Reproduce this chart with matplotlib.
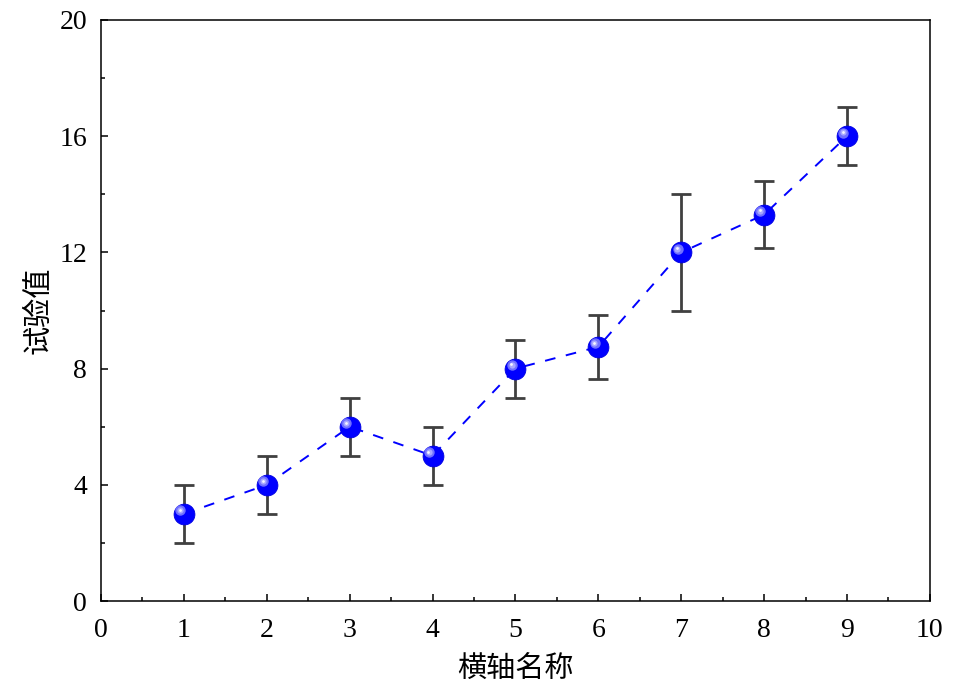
import matplotlib
matplotlib.use("Agg")
import matplotlib.pyplot as plt
from matplotlib.ticker import MultipleLocator
import matplotlib.transforms as mtransforms

# data
x = [1, 2, 3, 4, 5, 6, 7, 8, 9]
y = [3, 4, 6, 5, 8, 8.75, 12, 13.3, 16]
err = [1, 1, 1, 1, 1, 1.1, 2, 1.15, 1]

plt.rcParams['font.family'] = ['Liberation Serif', 'Noto Sans CJK SC']

fig = plt.figure(figsize=(9.66, 6.91), dpi=100)
ax = fig.add_axes([0.1046, 0.1302, 0.858, 0.8409])

# error bars
ax.errorbar(x, y, yerr=err, fmt='none', ecolor='#404040', elinewidth=2.0,
            capsize=7.5, capthick=2.0, zorder=2)
# dashed connecting line
ax.plot(x, y, color='#0000ff', linestyle=(0, (5.5, 5.5)), linewidth=1.4, zorder=3)
# sphere-like markers: base ball plus two highlight layers
ax.plot(x, y, linestyle='none', marker='o', markersize=15,
        markerfacecolor='#0000ff', markeredgecolor='#0000e0', markeredgewidth=0.6, zorder=4)
hl = mtransforms.offset_copy(ax.transData, fig=fig, x=-2.6, y=2.6, units='points')
ax.plot(x, y, linestyle='none', marker='o', markersize=7.5, transform=hl,
        markerfacecolor='#7070ff', markeredgecolor='none', zorder=5)
hl1 = mtransforms.offset_copy(ax.transData, fig=fig, x=-2.8, y=2.8, units='points')
ax.plot(x, y, linestyle='none', marker='o', markersize=4.5, transform=hl1,
        markerfacecolor='#a8a8ff', markeredgecolor='none', zorder=6)
hl2 = mtransforms.offset_copy(ax.transData, fig=fig, x=-3.0, y=3.0, units='points')
ax.plot(x, y, linestyle='none', marker='o', markersize=2.0, transform=hl2,
        markerfacecolor='#f4f4ff', markeredgecolor='none', zorder=7)

ax.set_xlim(0, 10)
ax.set_ylim(0, 20)
ax.xaxis.set_major_locator(MultipleLocator(1))
ax.xaxis.set_minor_locator(MultipleLocator(0.5))
ax.yaxis.set_major_locator(MultipleLocator(4))
ax.yaxis.set_minor_locator(MultipleLocator(2))

ax.tick_params(which='both', direction='in', top=False, right=False, width=1.1, labelsize=20)
ax.tick_params(which='major', length=5)
ax.tick_params(which='minor', length=3)
ax.tick_params(axis='y', pad=10)
ax.tick_params(axis='x', pad=12)
for s in ax.spines.values():
    s.set_linewidth(1.1)

ax.set_xlabel('横轴名称', fontsize=21, family=['Noto Sans CJK SC'], labelpad=8)
ax.set_ylabel('试验值', fontsize=21, family=['Noto Sans CJK SC'], labelpad=4)

fig.savefig('out.png', dpi=100)
